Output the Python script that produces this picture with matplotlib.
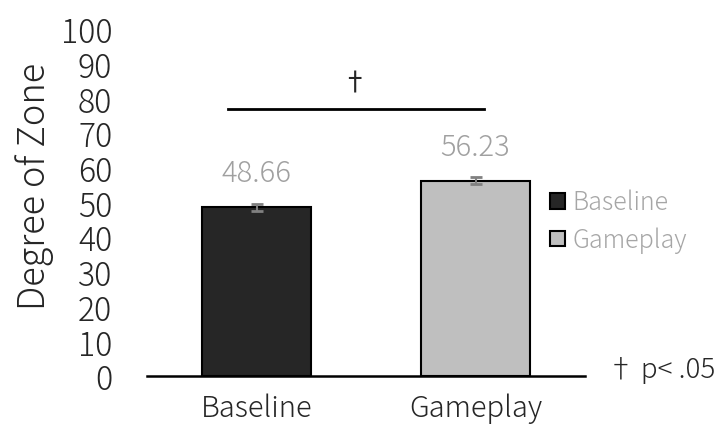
import matplotlib
matplotlib.use("Agg")
import matplotlib.pyplot as plt
from matplotlib.patches import Patch

plt.rcParams['font.family'] = ['Noto Sans CJK JP', 'DejaVu Sans']
plt.rcParams['font.weight'] = 'light'

categories = ["Baseline", "Gameplay"]
values = [48.66, 56.23]
errors = [1.0, 1.0]
colors = ["#262626", "#bfbfbf"]
yticks = list(range(0, 101, 10))
sig_y = 77

W, H = 723, 431
fig = plt.figure(figsize=(W/100, H/100), dpi=100)
ax = fig.add_axes([147/W, (H-377)/H, (585-147)/W, (377-30)/H])

x = list(range(len(categories)))
ax.bar(x, values, width=0.5, color=colors, edgecolor="black", linewidth=1.5, zorder=2)
ax.errorbar(x, values, yerr=errors, fmt="none", ecolor="#808080", elinewidth=1.5,
            capsize=4.3, capthick=2, zorder=3)
for xi, v in zip(x, values):
    ax.text(xi, v + 7.6, f"{v:.2f}", ha="center", va="baseline", fontsize=21,
            color="#a0a0a0", fontweight="light")

ax.set_xlim(-0.5, 1.5)
ax.set_ylim(0, 100)
ax.set_yticks(yticks)
ax.set_yticklabels([str(t) for t in yticks], fontsize=23, color="#262626", fontweight="light")
ax.set_xticks(x)
ax.set_xticklabels(categories, fontsize=21, color="#262626", fontweight="light")
ax.tick_params(axis="y", length=0, pad=25)
ax.tick_params(axis="x", length=0, pad=12)
for s in ["top", "right", "left"]:
    ax.spines[s].set_visible(False)
ax.spines["bottom"].set_linewidth(1.8)
ax.set_ylabel("Degree of Zone", fontsize=26, color="#262626", fontweight="light")
ax.yaxis.set_label_coords(-0.212, 0.548)

# significance bracket
ax.plot([-0.132, 1.041], [sig_y, sig_y], color="black", lw=2, clip_on=False)
ax.text(0.445, sig_y + 3.5, "†", ha="center", va="bottom", fontsize=19, color="#262626",
        fontweight="normal")

handles = [Patch(facecolor=c, edgecolor="black", linewidth=1.5) for c in colors]
fig.legend(handles, categories, loc="upper left", bbox_to_anchor=(540/W, 1-180/H),
           frameon=False, prop={"size": 18, "weight": "light"}, labelcolor="#a6a6a6",
           handlelength=0.6, handleheight=0.6, handletextpad=0.3, labelspacing=0.45,
           borderaxespad=0)

fig.text(607/W, 1-370/H, "† p< .05", ha="left", va="center", fontsize=20,
         color="#262626", fontweight="light")

fig.savefig("out.png", dpi=100)
